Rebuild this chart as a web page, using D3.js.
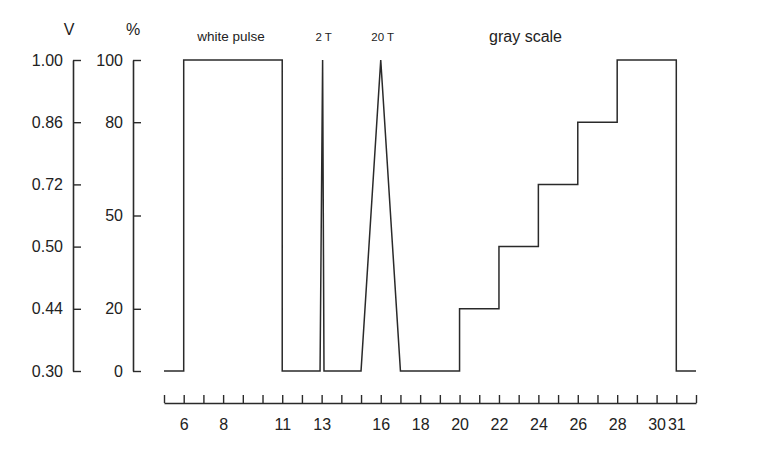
<!DOCTYPE html>
<html>
<head>
<meta charset="utf-8">
<script src="https://cdn.jsdelivr.net/npm/d3@7"></script>
<style>
  html, body { margin: 0; padding: 0; background: #fff; }
  svg { display: block; font-family: "Liberation Sans", Arial, sans-serif; }
</style>
</head>
<body>
<svg id="chart" width="762" height="470"></svg>
<script>
// Waveform (time units vs. percent level)
const waveX = [5, 6, 6, 11, 11, 12.92, 13.05, 13.12, 15, 16, 17, 20, 20, 22, 22, 24, 24, 26, 26, 28, 28, 31, 31, 32];
const waveY = [0, 0, 100, 100, 0, 0, 100, 0, 0, 100, 0, 0, 20, 20, 40, 40, 60, 60, 80, 80, 100, 100, 0, 0];

// Axis ticks
const pctTicks = [0, 20, 50, 80, 100];
const voltTickPos = [0, 20, 40, 60, 80, 100];
const voltTickLabels = ["0.30", "0.44", "0.50", "0.72", "0.86", "1.00"];
const xLabelTicks = [6, 8, 11, 13, 16, 18, 20, 22, 24, 26, 28, 30, 31];

// Annotations
const annotations = [
  { text: "white pulse", x: 8.4, size: 13.5 },
  { text: "2 T", x: 13.1, size: 11.5 },
  { text: "20 T", x: 16.1, size: 11.5 },
  { text: "gray scale", x: 23.35, size: 16 }
];

const svg = d3.select("#chart");
const x = d3.scaleLinear().domain([5, 32]).range([164, 696]);
const y = d3.scaleLinear().domain([0, 100]).range([371, 60]);
const ink = "#2a2a2a";

// V axis
const vAxis = d3.axisLeft(y)
  .tickValues(voltTickPos)
  .tickFormat(d => voltTickLabels[voltTickPos.indexOf(d)])
  .tickSizeInner(-8).tickSizeOuter(0).tickPadding(10);
const gV = svg.append("g").attr("transform", "translate(73,0)").call(vAxis);

// % axis
const pAxis = d3.axisLeft(y)
  .tickValues(pctTicks)
  .tickSizeInner(-8).tickSizeOuter(0).tickPadding(10);
const gP = svg.append("g").attr("transform", "translate(133,0)").call(pAxis);

// bottom axis
const xAxis = d3.axisBottom(x)
  .tickValues(d3.range(5, 33))
  .tickFormat(d => xLabelTicks.includes(d) ? d : "")
  .tickSizeInner(-8).tickSizeOuter(0).tickPadding(16);
const gX = svg.append("g").attr("transform", "translate(0,403)").call(xAxis);

[gV, gP, gX].forEach(g => {
  g.attr("font-size", 16).attr("font-family", "'Liberation Sans', Arial, sans-serif");
  g.selectAll("path.domain").attr("stroke", ink).attr("stroke-width", 1.6);
  g.selectAll(".tick line").attr("stroke", ink).attr("stroke-width", 1.4);
  g.selectAll(".tick text").attr("fill", "#222").style("font-size", "16px");
});

// axis titles
svg.append("text").attr("x", 69).attr("y", 35).attr("text-anchor", "middle")
  .style("font-size", "16px").attr("fill", "#222").text("V");
svg.append("text").attr("x", 133).attr("y", 35).attr("text-anchor", "middle")
  .style("font-size", "16px").attr("fill", "#222").text("%");

// waveform
const pts = waveX.map((d, i) => [d, waveY[i]]);
svg.append("path")
  .datum(pts)
  .attr("fill", "none")
  .attr("stroke", ink)
  .attr("stroke-width", 1.5)
  .attr("stroke-linejoin", "miter")
  .attr("d", d3.line().x(d => x(d[0])).y(d => y(d[1])));

// annotations
svg.selectAll("text.ann").data(annotations).join("text")
  .attr("class", "ann")
  .attr("x", d => x(d.x))
  .attr("y", d => d.size > 15 ? 42 : 41)
  .attr("text-anchor", "middle")
  .style("font-size", d => d.size + "px")
  .attr("fill", "#222")
  .text(d => d.text);
</script>
</body>
</html>
